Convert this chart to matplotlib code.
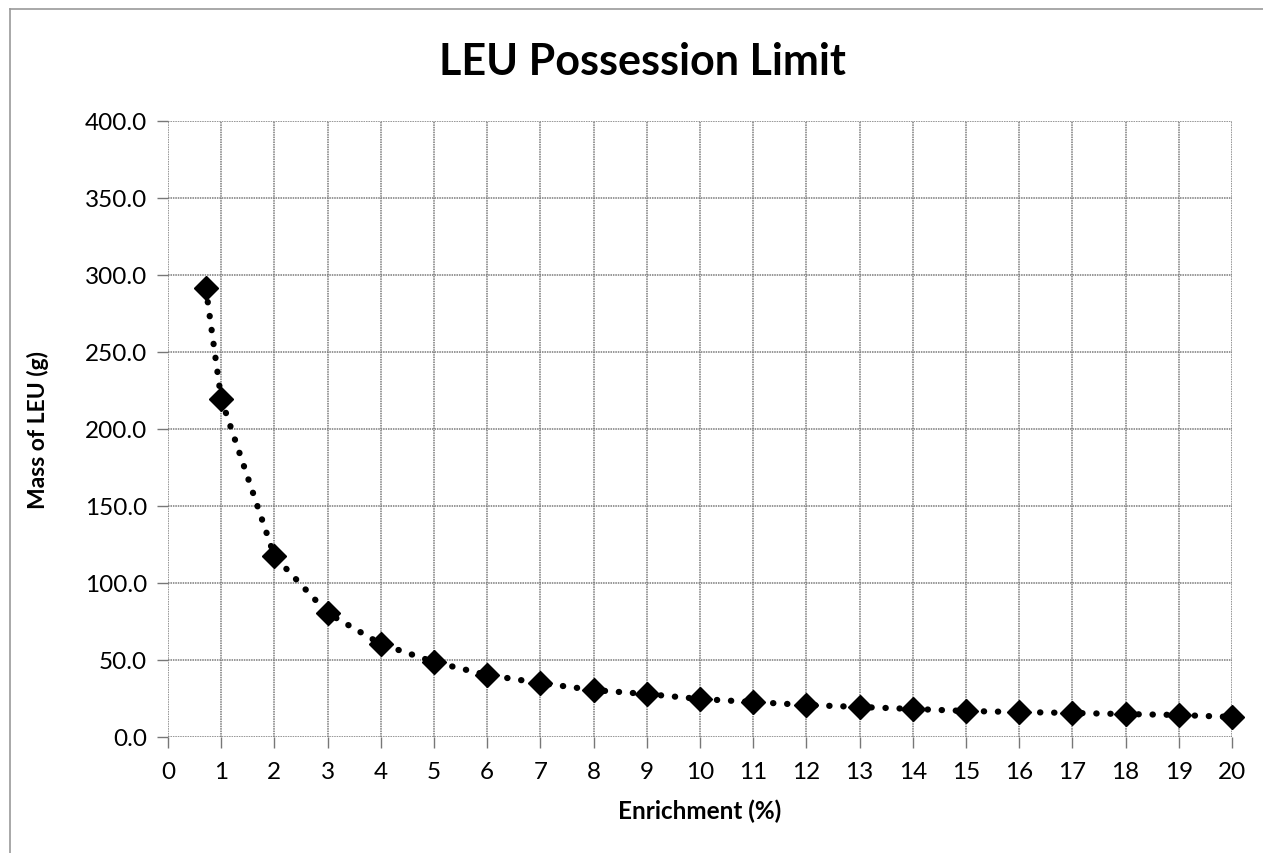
import matplotlib.pyplot as plt
from matplotlib.lines import Line2D

plt.rcParams['font.family'] = ['Lato', 'DejaVu Sans']

# ----- Data -----
enrichment = [0.711, 1, 2, 3, 4, 5, 6, 7, 8, 9, 10, 11, 12, 13, 14, 15, 16, 17, 18, 19, 20]
mass_leu = [291.5, 219.5, 117.5, 80.5, 60.4, 48.7, 40.3, 35.0, 30.5, 27.9, 24.7,
            22.7, 20.8, 19.5, 18.2, 16.9, 16.2, 15.6, 14.9, 14.3, 13.0]
x_ticks = list(range(0, 21))
y_ticks = [0, 50, 100, 150, 200, 250, 300, 350, 400]

# ------ Set up figure layout --------
fig = plt.figure(figsize=(12.63, 8.54), dpi=100)
ax1 = fig.add_axes([168 / 1263, 1 - 738 / 854, (1232 - 168) / 1263, (738 - 122) / 854])

# outer chart border (left and top visible in the scan)
fig.add_artist(Line2D([10 / 1263, 10 / 1263], [0, 1 - 10 / 854], color='#999999', lw=1.2))
fig.add_artist(Line2D([10 / 1263, 1], [1 - 10 / 854, 1 - 10 / 854], color='#999999', lw=1.2))

ax1.set_xlim(0, 20)
ax1.set_ylim(0, 400)
for s in ax1.spines.values():
    s.set_visible(False)
ax1.grid(True, color='#7a7a7a', lw=1.1, ls=(0, (1, 0.6)))
ax1.set_axisbelow(True)

# ------ Axes Labels --------
ax1.set_xticks(x_ticks)
ax1.set_yticks(y_ticks, ['%.1f' % v for v in y_ticks])
ax1.tick_params(axis='both', labelsize=17.5, color='#777777', length=8, width=1.0)
ax1.tick_params(axis='x', pad=9)
ax1.tick_params(axis='y', pad=7)
ax1.set_xlabel('Enrichment (%)', fontsize=17.5, fontweight='bold', labelpad=12)
ax1.set_ylabel('Mass of LEU (g)', fontsize=16.5, fontweight='bold', labelpad=26)
fig.text(642 / 1263, 1 - 62 / 854, 'LEU Possession Limit', fontsize=31, fontweight='bold',
         ha='center', va='center')

# ----- Add data -----
ax1.plot(enrichment, mass_leu, color='black', lw=4.5, ls=(0, (0.05, 2.2)),
         dash_capstyle='round', marker='D', markersize=12, markerfacecolor='black',
         markeredgecolor='black', clip_on=False)

plt.savefig('out.png', dpi=100)
